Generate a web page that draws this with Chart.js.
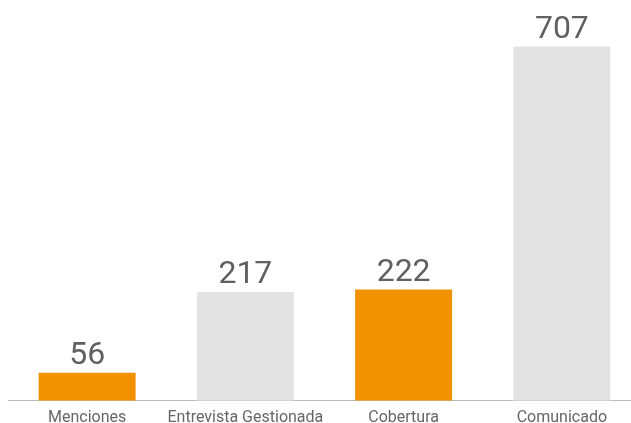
<!DOCTYPE html>
<html>
<head>
<meta charset="utf-8">
<script src="https://cdn.jsdelivr.net/npm/chart.js@4"></script>
<style>
  html, body { margin: 0; padding: 0; background: #fff; overflow: hidden; }
  #wrap { width: 641px; height: 428px; }
</style>
</head>
<body>
<div id="wrap"><canvas id="chart"></canvas></div>
<script>
// Chart data
const categories = ['Menciones', 'Entrevista Gestionada', 'Cobertura', 'Comunicado'];
const values = [56, 217, 222, 707];
const barColors = ['#f39200', '#e3e3e3', '#f39200', '#e3e3e3'];

// Draws the big value above each bar
const valueLabels = {
    id: 'valueLabels',
    afterDatasetsDraw(chart) {
        const ctx = chart.ctx;
        const meta = chart.getDatasetMeta(0);
        ctx.save();
        ctx.font = '32px Roboto';
        ctx.fillStyle = '#606060';
        ctx.textAlign = 'center';
        ctx.textBaseline = 'alphabetic';
        meta.data.forEach((bar, i) => {
            ctx.fillText(values[i], bar.x, bar.y - 9);
        });
        ctx.restore();
    }
};

new Chart(document.getElementById('chart'), {
    type: 'bar',
    data: {
        labels: categories,
        datasets: [{
            data: values,
            backgroundColor: barColors,
            borderWidth: 0,
            barPercentage: 0.613,
            categoryPercentage: 1.0
        }]
    },
    options: {
        responsive: true,
        maintainAspectRatio: false,
        animation: false,
        layout: { padding: { left: 8, right: 0, top: 25, bottom: 0 } },
        plugins: {
            legend: { display: false },
            tooltip: { enabled: false }
        },
        scales: {
            x: {
                grid: { display: false },
                border: { display: true, color: '#bdbdbd', width: 1 },
                ticks: {
                    color: '#666',
                    font: { family: 'Roboto', size: 16 },
                    padding: 0,
                    maxRotation: 0,
                    autoSkip: false
                }
            },
            y: {
                display: false,
                min: 0,
                max: 750
            }
        }
    },
    plugins: [valueLabels]
});
</script>
</body>
</html>
